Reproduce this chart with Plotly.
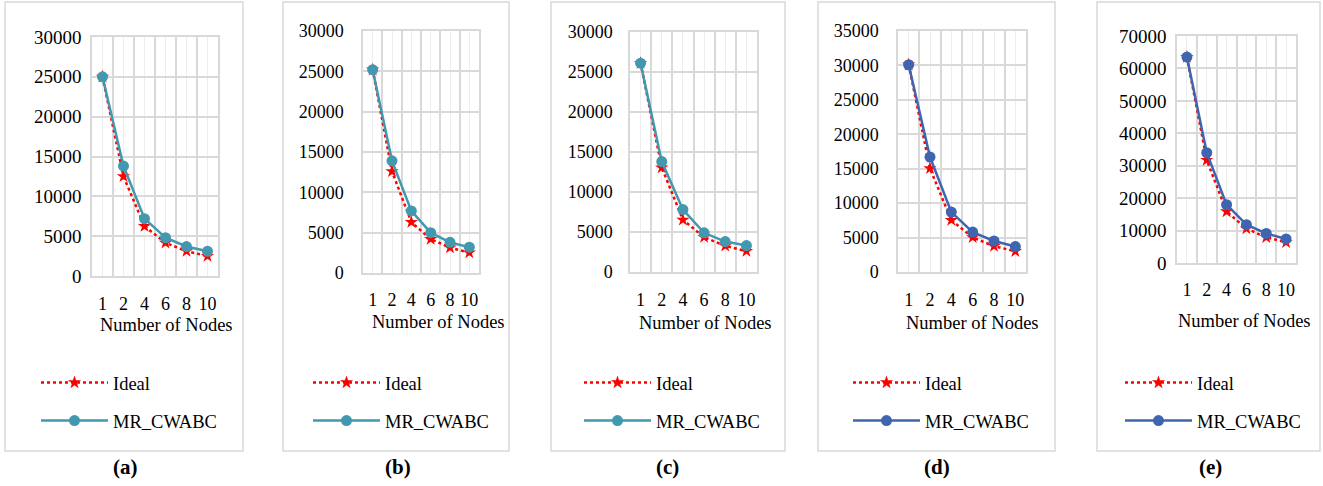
import plotly.graph_objects as go

W, H = 1323, 486

nodes = ["1", "2", "4", "6", "8", "10"]

ideal_a = [25000, 12500, 6250, 4167, 3125, 2500]
mr_a = [25000, 13800, 7200, 4800, 3700, 3100]
ideal_b = [25200, 12600, 6300, 4200, 3150, 2520]
mr_b = [25200, 13900, 7700, 5000, 3800, 3200]
ideal_c = [26100, 13050, 6525, 4350, 3262, 2610]
mr_c = [26100, 13800, 7800, 4900, 3800, 3300]
ideal_d = [30100, 15050, 7525, 5017, 3762, 3010]
mr_d = [30100, 16700, 8700, 5800, 4500, 3700]
ideal_e = [63500, 31750, 15875, 10583, 7937, 6350]
mr_e = [63500, 34000, 18000, 11800, 9100, 7400]

y_max = [30000, 30000, 30000, 35000, 70000]
y_step = [5000, 5000, 5000, 5000, 10000]
panel_labels = ["(a)", "(b)", "(c)", "(d)", "(e)"]
series_name_ideal = "Ideal"
series_name_mr = "MR_CWABC"
x_title = "Number of Nodes"

ideal_all = [ideal_a, ideal_b, ideal_c, ideal_d, ideal_e]
mr_all = [mr_a, mr_b, mr_c, mr_d, mr_e]

TEAL = "#4298AE"
BLUE = "#3F65B1"
mr_colors = [TEAL, TEAL, TEAL, BLUE, BLUE]
RED = "#FF0000"
FONT = "Liberation Serif"
GRID = "#D9D9D9"
GRID_LIGHT = "#EDEDED"

# layout geometry in pixels
plot_boxes = [  # x0, x1, y_top, y_bottom
    (92, 218, 37, 276),
    (363, 479, 31, 273),
    (630, 757, 32, 272),
    (898, 1026, 31, 272),
    (1177, 1296, 36, 263),
]
frames = [(5, 243), (283, 509), (551, 785), (818, 1055), (1097, 1320)]
frame_top, frame_bottom = 2, 451
ytick_gap = [5, 14, 12, 14, 5]
ytick_size = [19, 18, 18, 18, 19]
xtick_stand = [11, 10, 11, 11, 10]
xtitle_pos = [(166, 325), (438, 322), (705, 323), (972, 323), (1244, 321)]
legend_text_x = [114, 386, 657, 926, 1198]
caption_x = [125, 398, 668, 937, 1210]


def px(x):
    return x / W


def py(y):
    return 1 - y / H


fig = go.Figure()
positions = list(range(len(nodes)))

for i in range(5):
    xa = "x" if i == 0 else f"x{i+1}"
    ya = "y" if i == 0 else f"y{i+1}"
    lg = "legend" if i == 0 else f"legend{i+1}"
    fig.add_trace(go.Scatter(
        x=positions, y=ideal_all[i], name=series_name_ideal, xaxis=xa, yaxis=ya,
        mode="lines+markers", legend=lg, legendgroup=f"ideal{i}",
        line=dict(color=RED, width=2.5, dash="dot"),
        marker=dict(symbol="star", size=10, color=RED),
    ))
    fig.add_trace(go.Scatter(
        x=positions, y=mr_all[i], name=series_name_mr, xaxis=xa, yaxis=ya,
        mode="lines+markers", legend=lg, legendgroup=f"mr{i}",
        line=dict(color=mr_colors[i], width=2.5),
        marker=dict(symbol="circle", size=11, color=mr_colors[i]),
    ))

    x0, x1, yt, yb = plot_boxes[i]
    xkey = "xaxis" if i == 0 else f"xaxis{i+1}"
    ykey = "yaxis" if i == 0 else f"yaxis{i+1}"
    fig.layout[xkey] = dict(
        domain=[px(x0), px(x1)], anchor=ya, range=[-0.5, len(nodes) - 0.5],
        tickmode="array", tickvals=positions, ticktext=nodes, automargin=False,
        showgrid=True, gridcolor=GRID_LIGHT, gridwidth=1,
        minor=dict(tick0=0.5, dtick=1, showgrid=True, gridcolor=GRID, gridwidth=1.5),
        showline=True, linecolor=GRID, linewidth=1.5, mirror=True,
        zeroline=False, ticks="", ticklabelstandoff=xtick_stand[i],
        tickfont=dict(family=FONT, size=18, color="#000"), fixedrange=True,
    )
    fig.layout[ykey] = dict(
        domain=[py(yb), py(yt)], anchor=xa, range=[0, y_max[i]], automargin=False,
        tickmode="linear", tick0=0, dtick=y_step[i], tickformat="d",
        showgrid=True, gridcolor=GRID, gridwidth=1.5,
        showline=True, linecolor=GRID, linewidth=1.5, mirror=True,
        zeroline=False, ticks="", ticklabelstandoff=ytick_gap[i],
        tickfont=dict(family=FONT, size=ytick_size[i], color="#000"), fixedrange=True,
    )
    fig.layout[lg] = dict(
        x=px(legend_text_x[i] - 78), y=py(364), xanchor="left", yanchor="top",
        bgcolor="rgba(0,0,0,0)", borderwidth=0, itemwidth=67,
        tracegroupgap=11, font=dict(family=FONT, size=18.5, color="#000"),
        itemclick=False, itemdoubleclick=False,
    )
    # frame
    fx0, fx1 = frames[i]
    fig.add_shape(type="rect", xref="paper", yref="paper",
                  x0=px(fx0), x1=px(fx1), y0=py(frame_bottom), y1=py(frame_top),
                  line=dict(color=GRID, width=1.5), layer="below")
    tx, ty = xtitle_pos[i]
    fig.add_annotation(text=x_title, xref="paper", yref="paper", x=px(tx), y=py(ty),
                       showarrow=False, xanchor="center", yanchor="middle",
                       font=dict(family=FONT, size=18.5, color="#000"))
    fig.add_annotation(text=f"<b>{panel_labels[i]}</b>", xref="paper", yref="paper",
                       x=px(caption_x[i]), y=py(467), showarrow=False,
                       xanchor="center", yanchor="middle",
                       font=dict(family=FONT, size=21, color="#000"))

fig.update_layout(
    width=W, height=H, margin=dict(l=0, r=0, t=0, b=0, autoexpand=False),
    paper_bgcolor="white", plot_bgcolor="white", showlegend=True,
    font=dict(family=FONT, color="#000"),
)

fig.write_html(
    "out.html",
    config={"displayModeBar": False},
    post_script="document.body.style.margin='0';document.body.style.padding='0';",
)
